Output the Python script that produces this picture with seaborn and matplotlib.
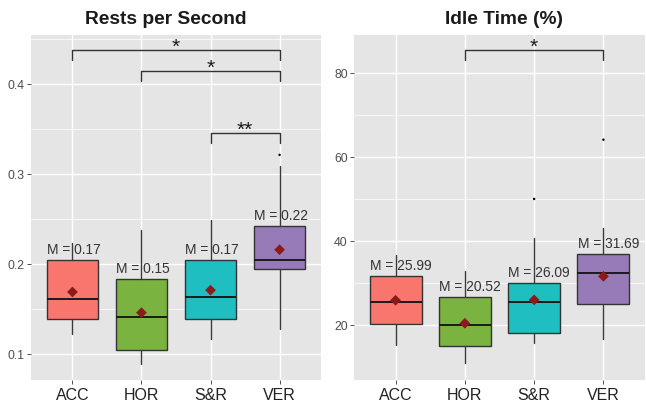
import numpy as np
import pandas as pd
import seaborn as sns
import matplotlib
matplotlib.use("Agg")
import matplotlib.pyplot as plt

groups = ["ACC", "HOR", "S&R", "VER"]
colors = ["#F8766D", "#7AB33F", "#1FBEC0", "#977BB8"]

# rests per second (box stats)
rps_whislo = [0.122, 0.089, 0.117, 0.128]
rps_q1 = [0.139, 0.105, 0.139, 0.194]
rps_med = [0.161, 0.141, 0.163, 0.205]
rps_q3 = [0.205, 0.183, 0.205, 0.242]
rps_whishi = [0.223, 0.238, 0.249, 0.309]
rps_mean = [0.169, 0.146, 0.171, 0.216]
rps_mean_lbl = ["0.17", "0.15", "0.17", "0.22"]
rps_out_grp = ["VER"]
rps_out_val = [0.3215]
rps_br_from = ["ACC", "HOR", "S&R"]
rps_br_to = ["VER", "VER", "VER"]
rps_br_y = [0.438, 0.415, 0.3455]
rps_br_lbl = ["*", "*", "**"]

# idle time (%)
idle_whislo = [15.4, 11.0, 15.8, 16.8]
idle_q1 = [20.3, 15.1, 18.1, 25.0]
idle_med = [25.6, 20.0, 25.5, 32.5]
idle_q3 = [31.8, 26.7, 30.2, 37.0]
idle_whishi = [36.7, 33.0, 40.7, 43.1]
idle_mean = [25.99, 20.52, 26.09, 31.69]
idle_mean_lbl = ["25.99", "20.52", "26.09", "31.69"]
idle_out_grp = ["S&R", "VER"]
idle_out_val = [50.1, 64.2]
idle_br_from = ["HOR"]
idle_br_to = ["VER"]
idle_br_y = [85.5]
idle_br_lbl = ["*"]

sns.set_theme(style="darkgrid", rc={
    "axes.facecolor": "#E5E5E5",
    "grid.color": "white",
    "xtick.bottom": True,
    "ytick.left": True,
})
plt.rcParams["font.family"] = ["Liberation Sans", "DejaVu Sans"]

fig = plt.figure(figsize=(6.46, 4.03), dpi=100)
ax1 = fig.add_axes([31 / 646, 23 / 403, 290 / 646, 345 / 403])
ax2 = fig.add_axes([354 / 646, 23 / 403, 291 / 646, 345 / 403])


def panel(ax, whislo, q1, med, q3, whishi, mean, mean_lbl, out_grp, out_val,
          br_from, br_to, br_y, br_lbl, tip, title, title_x, ylim, major, minor):
    pos = np.arange(len(groups))
    stats = []
    for i in range(len(groups)):
        stats.append({"whislo": whislo[i], "q1": q1[i], "med": med[i],
                      "q3": q3[i], "whishi": whishi[i], "fliers": []})
    bp = ax.bxp(stats, positions=pos, widths=0.75, patch_artist=True,
                showcaps=False, showfliers=False,
                boxprops=dict(edgecolor="#333333", linewidth=1.0),
                medianprops=dict(color="#1a1a1a", linewidth=1.4),
                whiskerprops=dict(color="#3a3a3a", linewidth=1.0))
    for patch, c in zip(bp["boxes"], colors):
        patch.set_facecolor(c)

    means = pd.DataFrame({"x": pos, "y": mean})
    sns.scatterplot(data=means, x="x", y="y", marker="D", s=30,
                    color="#8B1A1A", edgecolor="none", ax=ax, zorder=4)
    outs = pd.DataFrame({"x": [groups.index(g) for g in out_grp], "y": out_val})
    sns.scatterplot(data=outs, x="x", y="y", s=3, color="black",
                    edgecolor="none", ax=ax, zorder=4)

    for i in range(len(groups)):
        ax.annotate("M = " + mean_lbl[i], xy=(pos[i], q3[i]), xytext=(-18.5, 4.3),
                    textcoords="offset points", ha="left", va="baseline",
                    fontsize=9.9, color="#333333", zorder=5)

    for a, b, y, lbl in zip(br_from, br_to, br_y, br_lbl):
        x1, x2 = groups.index(a), groups.index(b)
        ax.plot([x1, x1, x2, x2], [y - tip, y, y, y - tip], color="#333333",
                lw=1.0, zorder=3)
        ax.annotate(lbl, xy=((x1 + x2) / 2, y), xytext=(0, -2.0),
                    textcoords="offset points", ha="center", va="baseline",
                    fontsize=15, color="#1a1a1a")

    ax.set_xlim(-0.6, 3.6)
    ax.set_ylim(*ylim)
    ax.set_xticks(pos)
    ax.set_xticklabels(groups)
    ax.set_yticks(major)
    ax.set_yticks(minor, minor=True)
    ax.grid(which="major", color="white", lw=1.0)
    ax.grid(which="minor", axis="y", color="white", lw=0.5)
    ax.tick_params(axis="both", which="major", length=3, width=0.6, color="#333333")
    ax.tick_params(axis="y", which="major", labelsize=8.8, labelcolor="#4D4D4D", pad=1.5)
    ax.tick_params(axis="x", which="major", labelsize=11.5, labelcolor="#222222", pad=3)
    ax.tick_params(which="minor", length=0)
    for s in ax.spines.values():
        s.set_visible(False)
    ax.set_xlabel("")
    ax.set_ylabel("")
    ax.set_axisbelow(True)
    ax.text(title_x, 1.0435, title, transform=ax.transAxes, ha="center",
            va="center", fontsize=13.8, fontweight="bold", color="#1a1a1a")


panel(ax1, rps_whislo, rps_q1, rps_med, rps_q3, rps_whishi, rps_mean,
      rps_mean_lbl, rps_out_grp, rps_out_val, rps_br_from, rps_br_to,
      rps_br_y, rps_br_lbl, 0.011, "Rests per Second", 0.4655,
      (0.0711, 0.4548), [0.1, 0.2, 0.3, 0.4], [0.15, 0.25, 0.35, 0.45])
ax1.set_yticklabels(["0.1", "0.2", "0.3", "0.4"])

panel(ax2, idle_whislo, idle_q1, idle_med, idle_q3, idle_whishi, idle_mean,
      idle_mean_lbl, idle_out_grp, idle_out_val, idle_br_from, idle_br_to,
      idle_br_y, idle_br_lbl, 2.4, "Idle Time (%)", 0.515,
      (7.03, 89.1), [20, 40, 60, 80], [30, 50, 70])

fig.savefig("out.png", dpi=100)
